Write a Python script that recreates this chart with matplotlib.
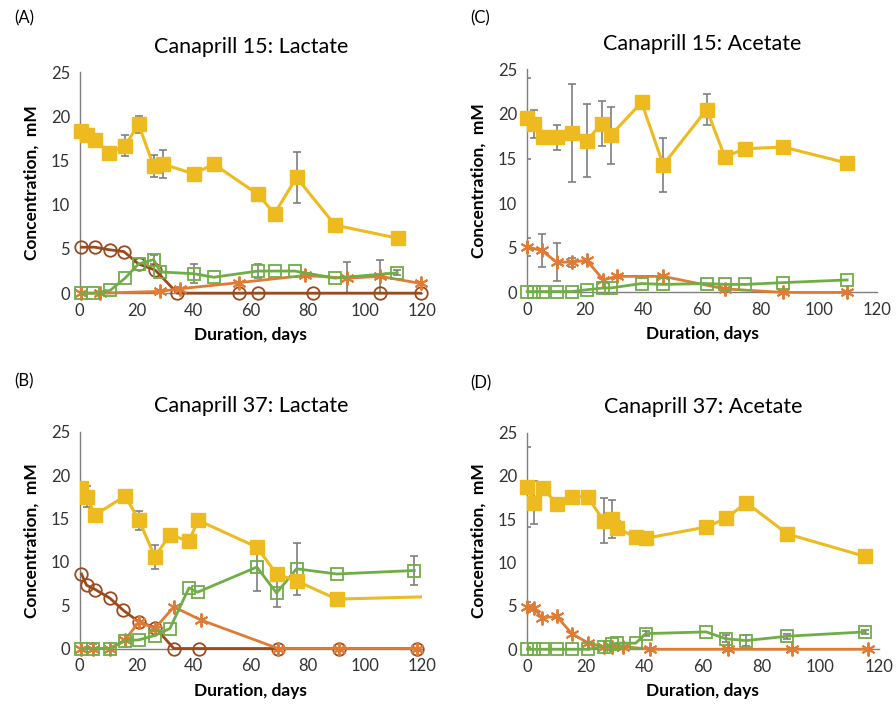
import matplotlib.pyplot as plt
import numpy as np

plt.rcParams['font.family'] = ['Lato', 'DejaVu Sans']

GOLD = "#EDBA1F"
GREEN = "#70AD47"
ORANGE = "#E07B35"
BROWN = "#9A4A1C"
GREY = "#7F7F7F"

# ---- (A) Canaprill 15: Lactate ----
a_sq_day = [0.6, 2.4, 5.3, 10.4, 15.9, 20.6, 25.9, 29.2, 40, 47, 62.4, 68.3, 76, 89.5, 111.7]
a_sq_val = [18.4, 17.9, 17.3, 15.9, 16.7, 19.1, 14.4, 14.6, 13.5, 14.6, 11.2, 9.0, 13.1, 7.7, 6.2]
a_sq_err = [0, 0.3, 0, 0, 1.2, 1.0, 1.25, 1.6, 0, 0, 0.3, 0, 2.9, 0, 0]
a_gr_day = [0.6, 4.7, 10.6, 15.9, 20.6, 25.9, 28.3, 40, 47, 62.4, 68.3, 75.4, 89.5, 111.3]
a_gr_val = [0, 0, 0.3, 1.7, 3.3, 3.8, 2.4, 2.2, 1.8, 2.5, 2.5, 2.5, 1.7, 2.3]
a_gr_err = [0, 0, 0, 0, 0, 0.5, 0, 1.1, 0, 0.8, 0, 0, 0, 0.3]
a_or_day = [0.6, 7, 28.3, 35.3, 56, 79, 93.6, 105.4, 119.5]
a_or_val = [0, 0, 0.2, 0.5, 1.2, 2.0, 1.7, 1.9, 1.1]
a_or_err = [0, 0, 0, 0, 0, 0, 1.8, 1.9, 0]
a_br_day = [0.6, 5.3, 10.6, 15.5, 20.6, 26.5, 34.2, 56, 62.4, 81.8, 105.4, 119.5]
a_br_val = [5.2, 5.2, 4.9, 4.7, 3.3, 2.6, 0, 0, 0, 0, 0, 0]

# ---- (B) Canaprill 37: Lactate ----
b_sq_day = [0.6, 2.6, 5.3, 15.9, 20.8, 26.3, 31.6, 38.3, 41.5, 62.1, 69, 76, 90.1, 125]
b_sq_val = [18.5, 17.5, 15.4, 17.6, 14.8, 10.6, 13.1, 12.4, 14.8, 11.7, 8.6, 7.8, 5.7, 6.0]
b_sq_err = [0.7, 1.2, 0.7, 0.6, 1.1, 1.4, 0, 0, 0, 0.7, 0, 0, 0, 0]
b_gr_day = [0.6, 4.7, 10.6, 15.9, 20.8, 26.3, 31.6, 38.3, 41.3, 62.1, 69, 76, 90.1, 117.3]
b_gr_val = [0, 0, 0, 0.9, 1.0, 1.5, 2.3, 7.0, 6.5, 9.4, 6.4, 9.2, 8.6, 9.0]
b_gr_err = [0, 0.5, 0, 0, 0, 0, 0, 0, 0, 2.8, 1.6, 3.0, 0, 1.7]
b_or_day = [0.6, 4.7, 10.6, 15.9, 20.8, 26.3, 33, 42.4, 69.6, 90.8, 118.2]
b_or_val = [0, 0, 0, 1.0, 3.1, 2.3, 4.8, 3.3, 0, 0, 0]
b_or_err = [0] * 11
b_br_day = [0.6, 2.4, 5.5, 10.6, 15.3, 20.6, 26.5, 33, 41.8, 69.6, 90.8, 118.2]
b_br_val = [8.6, 7.3, 6.8, 5.8, 4.4, 3.1, 2.4, 0, 0, 0, 0, 0]

# ---- (C) Canaprill 15: Acetate ----
c_sq_day = [0.1, 2.3, 5.4, 10.2, 15.3, 20.5, 25.6, 28.7, 39.3, 46.7, 61.6, 67.8, 74.7, 87.8, 109.7]
c_sq_val = [19.5, 18.9, 17.4, 17.4, 17.9, 17.0, 18.9, 17.6, 21.3, 14.3, 20.5, 15.2, 16.1, 16.3, 14.5]
c_sq_err = [4.5, 1.6, 0, 1.4, 5.5, 4.1, 2.5, 3.2, 0, 3.0, 1.7, 0, 0, 0, 0]
c_gr_day = [0.1, 2.3, 5.4, 10.2, 15.3, 20.5, 26.2, 28.7, 39.3, 46.7, 61.6, 67.8, 74.7, 87.8, 109.7]
c_gr_val = [0.1, 0.1, 0.1, 0.1, 0.1, 0.3, 0.5, 0.5, 1.0, 0.9, 1.0, 0.9, 0.9, 1.1, 1.4]
c_gr_err = [0] * 15
c_or_day = [0.1, 5.1, 10.2, 15.3, 20.5, 26.2, 30.8, 46.7, 67.8, 87.8, 109.7]
c_or_val = [5.1, 4.7, 3.4, 3.4, 3.6, 1.4, 1.8, 1.8, 0.4, 0, 0]
c_or_err = [1.0, 1.8, 2.1, 0.5, 0, 0, 0, 0, 0, 0, 0]

# ---- (D) Canaprill 37: Acetate ----
d_sq_day = [0.2, 2.5, 5.4, 10.2, 15.3, 20.7, 26.2, 29.1, 30.8, 37.1, 40.5, 61.1, 67.9, 74.8, 88.8, 115.3]
d_sq_val = [18.7, 16.9, 18.6, 16.8, 17.6, 17.6, 14.8, 15.0, 14.0, 12.9, 12.8, 14.1, 15.1, 16.9, 13.3, 10.7]
d_sq_err = [4.6, 2.5, 0, 0, 0.7, 0, 2.6, 2.2, 0.8, 0.5, 0.6, 0, 0, 0, 0, 0]
d_gr_day = [0.2, 2.5, 5.4, 10.2, 15.3, 20.7, 26.2, 29.1, 30.8, 37.1, 40.5, 61.1, 67.9, 74.8, 88.8, 115.3]
d_gr_val = [0, 0, 0, 0, 0, 0, 0.3, 0.6, 0.7, 0.7, 1.8, 2.0, 1.2, 1.0, 1.5, 2.0]
d_gr_err = [0.2, 0, 0, 0, 0, 0, 0, 0, 0, 0, 0.3, 0, 0.4, 0.6, 0.3, 0.2]
d_or_day = [0.2, 2.5, 5.0, 10.2, 15.3, 21, 26.2, 29.1, 32.9, 42, 68.7, 90.2, 116.2]
d_or_val = [4.9, 4.8, 3.6, 3.8, 1.8, 0.7, 0.3, 0.3, 0.3, 0, 0, 0, 0]
d_or_err = [0.6, 0, 0, 0, 0, 0, 0, 0, 0, 0, 0, 0, 0]

titles = ["Canaprill 15: Lactate", "Canaprill 37: Lactate",
          "Canaprill 15: Acetate", "Canaprill 37: Acetate"]
letters = ["(A)", "(B)", "(C)", "(D)"]

star = (6, 2, 0)


def err_bars(ax, x, y, e):
    x = np.array(x); y = np.array(y); e = np.array(e)
    m = e > 0
    if m.any():
        ax.errorbar(x[m], y[m], yerr=e[m], fmt='none', ecolor=GREY,
                    elinewidth=1.2, capsize=3, capthick=1.2, zorder=2)


def panel(ax, sq, gr, orr, br=None):
    err_bars(ax, *sq)
    err_bars(ax, *gr)
    err_bars(ax, *orr)
    if br is not None:
        ax.plot(br[0], br[1], color=BROWN, lw=2, marker='o', ms=9,
                mfc='none', mec=BROWN, mew=1.3, zorder=3, clip_on=False)
    ax.plot(orr[0], orr[1], color=ORANGE, lw=2, marker=star, ms=10,
            mec=ORANGE, mew=1.4, zorder=4, clip_on=False)
    ax.plot(gr[0], gr[1], color=GREEN, lw=2, marker='s', ms=9,
            mfc='none', mec=GREEN, mew=1.3, zorder=5, clip_on=False)
    # the last gold point of (B) lies past the axis end, so keep clipping there
    ax.plot(sq[0], sq[1], color=GOLD, lw=2.2, marker='s', ms=10,
            mfc=GOLD, mec=GOLD, zorder=6, clip_on=max(sq[0]) > 120)
    ax.set_xlim(0, 120)
    ax.set_ylim(0, 25)
    ax.set_xticks(range(0, 121, 20))
    ax.set_yticks(range(0, 26, 5))
    ax.tick_params(length=0, labelsize=12, colors='#333333', pad=7)
    for s in ['top', 'right']:
        ax.spines[s].set_visible(False)
    for s in ['left', 'bottom']:
        ax.spines[s].set_color('#7F7F7F')
        ax.spines[s].set_linewidth(1)
    ax.set_xlabel("Duration, days", fontsize=12.5, fontweight='bold', labelpad=6)
    ax.set_ylabel("Concentration,  mM", fontsize=12.5, fontweight='bold', labelpad=8)


fig = plt.figure(figsize=(8.96, 7.15), dpi=100)
axA = fig.add_axes([0.089, 0.590, 0.382, 0.309])
axB = fig.add_axes([0.089, 0.093, 0.382, 0.303])
axC = fig.add_axes([0.588, 0.591, 0.391, 0.312])
axD = fig.add_axes([0.588, 0.092, 0.393, 0.303])

panel(axA, (a_sq_day, a_sq_val, a_sq_err), (a_gr_day, a_gr_val, a_gr_err),
      (a_or_day, a_or_val, a_or_err), (a_br_day, a_br_val))
panel(axB, (b_sq_day, b_sq_val, b_sq_err), (b_gr_day, b_gr_val, b_gr_err),
      (b_or_day, b_or_val, b_or_err), (b_br_day, b_br_val))
panel(axC, (c_sq_day, c_sq_val, c_sq_err), (c_gr_day, c_gr_val, c_gr_err),
      (c_or_day, c_or_val, c_or_err))
panel(axD, (d_sq_day, d_sq_val, d_sq_err), (d_gr_day, d_gr_val, d_gr_err),
      (d_or_day, d_or_val, d_or_err))

for ax, t in zip([axA, axB, axC, axD], titles):
    ax.set_title(t, fontsize=15.5, pad=14)

fig.text(14 / 896, 1 - 18 / 715, letters[0], fontsize=12, va='center')
fig.text(14 / 896, 1 - 381 / 715, letters[1], fontsize=12, va='center')
fig.text(470 / 896, 1 - 18 / 715, letters[2], fontsize=12, va='center')
fig.text(470 / 896, 1 - 383 / 715, letters[3], fontsize=12, va='center')

fig.savefig("out.png", dpi=100)
